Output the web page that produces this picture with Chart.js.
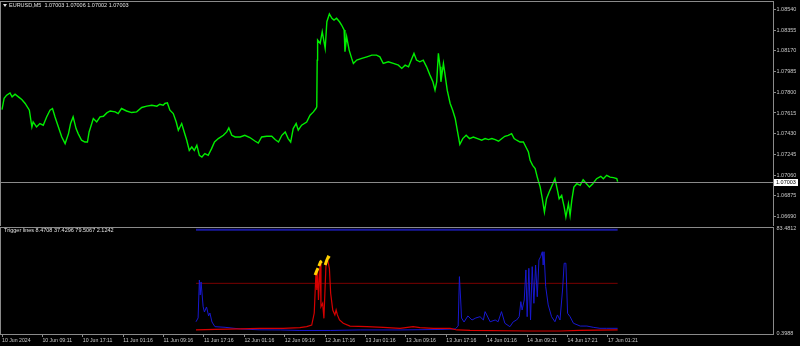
<!DOCTYPE html>
<html>
<head>
<meta charset="utf-8">
<script src="https://cdn.jsdelivr.net/npm/chart.js@4.4.1/dist/chart.umd.min.js"></script>
<style>
  html, body { margin: 0; padding: 0; background: #000; }
  #wrap { position: relative; width: 800px; height: 346px; overflow: hidden; background: #000; }
  #priceCanvas { position: absolute; left: 0; top: 0; }
  #trigCanvas { position: absolute; left: 0; top: 226px; }
</style>
</head>
<body>
<div id="wrap">
  <canvas id="priceCanvas" width="800" height="226"></canvas>
  <canvas id="trigCanvas" width="800" height="120"></canvas>
</div>
<script>
// EURUSD M5 close prices, sampled by bar number
const barIdx = [0,5,11,19,24,31,39,47,55,65,71,74,82,90,98,106,114,120,126,134,
  142,150,158,163,169,176,181,189,197,203,207,217,225,233,241,249,257,269,276,284,
  296,308,320,332,344,356,368,375,383,387,393,399,407,414,419,427,433,439,445,451,
  457,463,469,475,482,490,498,505,514,526,534,539,546,554,566,577,589,601,609,617,
  629,641,649,657,665,673,680,686,692,699,704,712,724,732,740,746,748,749,750,756,
  761,768,772,778,784,789,795,802,807,813,815,819,825,831,835,843,855,867,879,890,
  898,906,918,930,942,950,958,966,974,979,985,993,1001,1009,1017,1024,1029,1033,1037,1041,
  1043,1049,1053,1058,1065,1071,1077,1082,1088,1095,1103,1111,1120,1130,1140,1148,1156,1164,1172,1180,
  1188,1195,1203,1211,1217,1223,1231,1239,1245,1251,1255,1261,1267,1272,1279,1284,1289,1294,1302,1309,
  1314,1320,1324,1330,1336,1340,1346,1350,1354,1359,1366,1374,1381,1389,1396,1404,1413,1423,1429,1437,
  1445,1453,1461,1463];
const closePrice = [1.07646,1.07747,1.07774,1.07794,1.07759,1.07783,1.07759,1.07735,1.07700,1.07640,
  1.07490,1.07535,1.07490,1.07521,1.07506,1.07580,1.07640,1.07655,1.07580,1.07490,
  1.07401,1.07342,1.07431,1.07521,1.07580,1.07476,1.07431,1.07372,1.07356,1.07356,
  1.07446,1.07566,1.07535,1.07580,1.07586,1.07616,1.07633,1.07625,1.07610,1.07655,
  1.07633,1.07619,1.07625,1.07664,1.07676,1.07684,1.07676,1.07693,1.07684,1.07700,
  1.07705,1.07640,1.07610,1.07535,1.07461,1.07521,1.07446,1.07372,1.07282,1.07312,
  1.07282,1.07327,1.07237,1.07222,1.07253,1.07237,1.07297,1.07356,1.07387,1.07416,
  1.07446,1.07482,1.07416,1.07401,1.07401,1.07416,1.07396,1.07365,1.07347,1.07401,
  1.07407,1.07407,1.07378,1.07356,1.07416,1.07446,1.07387,1.07356,1.07476,1.07521,
  1.07461,1.07506,1.07535,1.07595,1.07625,1.07655,1.07669,1.08087,1.08266,1.08236,
  1.08340,1.08191,1.08429,1.08498,1.08460,1.08444,1.08460,1.08429,1.08400,1.08355,
  1.08161,1.08295,1.08176,1.08102,1.08057,1.08087,1.08102,1.08116,1.08131,1.08131,
  1.08116,1.08057,1.08072,1.08057,1.08042,1.08013,1.08042,1.08027,1.08102,1.08147,
  1.08087,1.08072,1.08087,1.08027,1.07953,1.07893,1.07819,1.07893,1.08147,1.08027,
  1.07893,1.08057,1.07953,1.07819,1.07700,1.07640,1.07566,1.07461,1.07336,1.07387,
  1.07416,1.07387,1.07401,1.07387,1.07372,1.07387,1.07378,1.07387,1.07378,1.07363,
  1.07387,1.07407,1.07416,1.07431,1.07387,1.07372,1.07356,1.07356,1.07312,1.07267,
  1.07193,1.07148,1.07119,1.07043,1.06954,1.06850,1.06731,1.06850,1.06925,1.06984,
  1.07029,1.06925,1.06850,1.06880,1.06775,1.06686,1.06806,1.06701,1.06835,1.06954,
  1.06984,1.06969,1.07020,1.06984,1.06954,1.06984,1.07029,1.07050,1.07029,1.07059,
  1.07043,1.07038,1.07029,1.07003];
const priceTicks = [1.08540,1.08355,1.08170,1.07985,1.07800,1.07615,1.07430,1.07245,1.07060,1.06875,1.06690];
const quote = ['1.07003','1.07006','1.07002','1.07003'];

// time axis: one label every 96 bars
const barsPerLabel = 96;
const timeLabels = ['10 Jun 2024','10 Jun 09:11','10 Jun 17:11','11 Jun 01:16','11 Jun 09:16',
  '11 Jun 17:16','12 Jun 01:16','12 Jun 09:16','12 Jun 17:16','13 Jun 01:16','13 Jun 09:16',
  '13 Jun 17:16','14 Jun 01:16','14 Jun 09:21','14 Jun 17:21','17 Jun 01:21'];

// Trigger lines indicator
const blueIdx = [461,466,469,471,473,478,481,486,491,494,499,506,530,566,613,661,708,780,851,946,
  1041,1077,1084,1087,1090,1092,1098,1107,1117,1126,1136,1144,1148,1152,1160,1172,1179,1187,1195,1207,
  1215,1223,1229,1233,1236,1241,1245,1248,1252,1256,1260,1264,1268,1272,1276,1280,1284,1286,1288,1292,
  1298,1306,1314,1320,1326,1332,1336,1340,1344,1350,1358,1374,1390,1405,1421,1437,1463];
const blueVal = [9.3,12.3,42.3,30.5,40.8,21.2,17.0,21.0,13.9,16.2,9.1,5.4,4.9,3.6,2.9,2.8,2.4,2.4,2.8,2.8,
  3.2,3.6,5.9,45.0,26.5,12.3,9.1,13.9,10.7,12.3,13.3,10.7,17.3,14.7,9.3,10.7,9.3,17.3,8.1,5.4,
  9.3,10.7,13.3,25.2,18.6,26.5,50.3,13.3,51.6,10.7,52.9,23.9,54.2,29.1,58.2,60.8,64.7,54.2,64.7,37.1,
  22.6,13.3,9.3,14.7,10.7,34.4,55.6,55.6,16.0,13.3,8.1,5.9,5.9,4.9,4.1,4.1,4.1];
const redIdx = [461,506,566,613,668,708,724,736,742,746,748,750,752,756,758,762,765,770,774,778,
  781,786,791,794,797,802,811,827,867,906,946,977,993,1025,1065,1081,1112,1255,1326,1374,1463];
const redVal = [2.8,3.2,3.6,4.0,4.1,4.7,5.4,6.7,16.2,47.7,34.4,50.2,26.5,55.6,21.2,23.9,12.0,55.6,58.2,51.6,
  31.8,18.6,14.7,18.6,14.7,10.7,8.1,5.9,5.4,4.9,4.1,5.4,4.7,4.1,4.1,2.8,2.4,2.0,2.0,2.4,2.8];
const yellowIdx = [744,748,751,752,753,757,760,764,768,772,775,779];
const yellowVal = [46.3,49.5,51.8,null,53.4,56.6,57.4,null,54.2,58.2,60.5,59.7];
const levelBars = [461,1463];
const upperLevel = 82.0;
const middleLevel = 39.7;
const trigTicks = [83.4812,0.3988];
const trigValues = ['8.4708','37.4296','79.5067','2.1242'];

const xMin = -2.4, xMax = 1832.2;
const textColor = '#c8c8c8';
const frameColor = '#8a8a8a';

Chart.defaults.font.family = "'Liberation Sans', Arial, sans-serif";
Chart.defaults.font.size = 5.5;
Chart.defaults.color = textColor;

function pts(xs, ys) {
  return xs.map((x, i) => ({ x: x, y: ys[i] }));
}

const framePlugin = {
  id: 'frame',
  afterDraw(chart, args, opts) {
    const ctx = chart.ctx, a = chart.chartArea;
    ctx.save();
    ctx.strokeStyle = frameColor;
    ctx.lineWidth = 1;
    ctx.strokeRect(a.left - 0.5, a.top - 0.5, a.right - a.left + 1, a.bottom - a.top + 1);
    if (opts.fullBottom) {
      ctx.beginPath();
      ctx.moveTo(0, a.bottom + 0.5);
      ctx.lineTo(chart.width, a.bottom + 0.5);
      ctx.stroke();
    }
    ctx.restore();
  }
};

const titlePlugin = {
  id: 'title2',
  afterDraw(chart, args, opts) {
    const ctx = chart.ctx;
    ctx.save();
    ctx.font = "5.5px 'Liberation Sans', Arial, sans-serif";
    ctx.textBaseline = 'middle';
    ctx.fillStyle = '#e0e0e0';
    if (opts.arrow) {
      ctx.beginPath();
      ctx.moveTo(3, opts.y - 1.5);
      ctx.lineTo(7, opts.y - 1.5);
      ctx.lineTo(5, opts.y + 1.5);
      ctx.closePath();
      ctx.fill();
    }
    ctx.fillText(opts.text, opts.x, opts.y);
    ctx.restore();
  }
};

const lastPricePlugin = {
  id: 'lastPrice',
  afterDraw(chart) {
    const ctx = chart.ctx, a = chart.chartArea;
    const last = closePrice[closePrice.length - 1];
    const y = Math.round(chart.scales.y.getPixelForValue(last)) + 0.5;
    ctx.save();
    ctx.strokeStyle = frameColor;
    ctx.lineWidth = 1;
    ctx.beginPath();
    ctx.moveTo(a.left, y);
    ctx.lineTo(a.right, y);
    ctx.stroke();
    ctx.fillStyle = '#ffffff';
    ctx.fillRect(a.right + 1, y - 3.5, 24, 7);
    ctx.fillStyle = '#000000';
    ctx.font = "5.5px 'Liberation Sans', Arial, sans-serif";
    ctx.textBaseline = 'middle';
    ctx.fillText(last.toFixed(5), a.right + 3, y);
    ctx.restore();
  }
};

function fixedY(s) {
  s.width = 27;
  s.paddingTop = 0;
  s.paddingBottom = 0;
}

const xHidden = {
  type: 'linear', min: xMin, max: xMax, display: false
};

new Chart(document.getElementById('priceCanvas'), {
  type: 'line',
  data: {
    datasets: [{
      data: pts(barIdx, closePrice),
      borderColor: '#00ee00',
      borderWidth: 1.4,
      pointRadius: 0,
      tension: 0
    }]
  },
  options: {
    responsive: false,
    animation: false,
    events: [],
    layout: { padding: { left: 1, top: 2, right: 0, bottom: 0 } },
    scales: {
      x: xHidden,
      y: {
        type: 'linear',
        position: 'right',
        min: 1.066069,
        max: 1.086052,
        afterBuildTicks: s => { s.ticks = priceTicks.map(v => ({ value: v })); },
        afterFit: fixedY,
        border: { display: false },
        grid: { drawOnChartArea: false, drawTicks: true, tickLength: 3, color: frameColor },
        ticks: {
          padding: 0.5,
          color: textColor,
          autoSkip: false,
          callback: v => v.toFixed(5)
        }
      }
    },
    plugins: {
      legend: { display: false },
      tooltip: { enabled: false },
      frame: { fullBottom: true },
      title2: { text: 'EURUSD,M5  ' + quote.join(' '), x: 9, y: 5.5, arrow: true }
    }
  },
  plugins: [framePlugin, lastPricePlugin, titlePlugin]
});

new Chart(document.getElementById('trigCanvas'), {
  type: 'line',
  data: {
    datasets: [
      {
        data: pts(yellowIdx, yellowVal),
        borderColor: '#ffd000',
        borderWidth: 3,
        pointRadius: 0,
        spanGaps: false,
        order: 0
      },
      {
        data: pts(redIdx, redVal),
        borderColor: '#d40000',
        borderWidth: 1.2,
        pointRadius: 0,
        order: 1
      },
      {
        data: pts(blueIdx, blueVal),
        borderColor: '#1818d0',
        borderWidth: 1,
        pointRadius: 0,
        order: 2
      },
      {
        data: pts(levelBars, [upperLevel, upperLevel]),
        borderColor: '#1a1aa0',
        borderWidth: 2,
        pointRadius: 0,
        order: 3
      },
      {
        data: pts(levelBars, [middleLevel, middleLevel]),
        borderColor: '#7a0000',
        borderWidth: 1,
        pointRadius: 0,
        order: 4
      }
    ]
  },
  options: {
    responsive: false,
    animation: false,
    events: [],
    layout: { padding: { left: 1, top: 2, right: 0, bottom: 0 } },
    scales: {
      x: {
        type: 'linear',
        min: xMin,
        max: xMax,
        afterBuildTicks: s => { s.ticks = timeLabels.map((t, i) => ({ value: i * barsPerLabel })); },
        afterFit: s => { s.height = 12; s.paddingLeft = 0; s.paddingRight = 0; },
        border: { display: false },
        grid: { drawOnChartArea: false, drawTicks: true, tickLength: 3, color: frameColor },
        ticks: {
          align: 'start',
          padding: 0,
          maxRotation: 0,
          autoSkip: false,
          color: textColor,
          font: { size: 5.2 },
          callback: v => timeLabels[Math.round(v / barsPerLabel)]
        }
      },
      y: {
        type: 'linear',
        position: 'right',
        min: -0.3925,
        max: 83.4812,
        afterBuildTicks: s => { s.ticks = trigTicks.map(v => ({ value: v })); },
        afterFit: fixedY,
        border: { display: false },
        grid: { drawOnChartArea: false, drawTicks: true, tickLength: 3, color: 'rgba(0,0,0,0)' },
        ticks: {
          padding: 0.5,
          color: textColor,
          autoSkip: false,
          callback: v => String(v)
        }
      }
    },
    plugins: {
      legend: { display: false },
      tooltip: { enabled: false },
      frame: { fullBottom: false },
      title2: { text: 'Trigger lines ' + trigValues.join(' '), x: 4, y: 4, arrow: false }
    }
  },
  plugins: [framePlugin, titlePlugin]
});
</script>
</body>
</html>
